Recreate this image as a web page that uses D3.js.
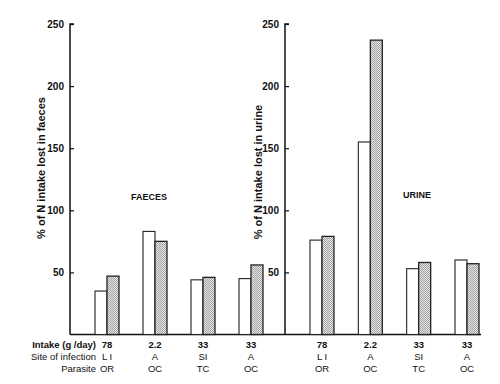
<!DOCTYPE html>
<html>
<head>
<meta charset="utf-8">
<script src="https://cdn.jsdelivr.net/npm/d3@7"></script>
<style>
	body { margin: 0; background: #fff; }
	text { font-family: "Liberation Sans", Arial, sans-serif; fill: #111; }
</style>
</head>
<body>
<svg width="500" height="384"></svg>
<script>
const intake = ['78', '2.2', '33', '33']
const site = ['L I', 'A', 'SI', 'A']
const parasite = ['OR', 'OC', 'TC', 'OC']
const faecesOpen = [35, 83, 44, 45]
const faecesHatched = [47, 75, 46, 56]
const urineOpen = [76, 155, 53, 60]
const urineHatched = [79, 237, 58, 57]
const yTicks = [50, 100, 150, 200, 250]

const svg = d3.select('svg')

let defs = svg.append('defs')
let pat = defs.append('pattern')
	.attr('id', 'hatch')
	.attr('width', 2).attr('height', 2)
	.attr('patternUnits', 'userSpaceOnUse')
pat.append('rect').attr('width', 2).attr('height', 2).attr('fill', '#e4e4e4')
pat.append('rect').attr('width', 1).attr('height', 1).attr('fill', '#a4a4a4')
pat.append('rect').attr('x', 1).attr('y', 1).attr('width', 1).attr('height', 1).attr('fill', '#a4a4a4')

const y = d3.scaleLinear().domain([0, 250]).range([334.5, 24])
const bw = 12
const rowY = [348, 360, 372]

function panel(opts) {
	const g = svg.append('g')
	// group centres
	const x = d3.scalePoint()
		.domain(d3.range(intake.length))
		.range([opts.c0, opts.c1])

	// axis
	const ax = g.append('g')
		.attr('transform', `translate(${opts.axisX},0)`)
		.call(d3.axisRight(y).tickValues(yTicks).tickSize(4).tickFormat(d3.format('d')))
	ax.select('.domain').attr('d', `M4,${y(250)}H0V${y(0)}`).attr('stroke', '#111').attr('stroke-width', 1.5)
	ax.selectAll('.tick line').attr('stroke', '#111').attr('stroke-width', 1.2)
	ax.selectAll('.tick text')
		.attr('x', -6).attr('text-anchor', 'end')
		.style('font-size', '10px').style('font-weight', 'bold')
		.style('font-family', '"Liberation Sans", Arial, sans-serif')

	// baseline
	g.append('line')
		.attr('x1', opts.axisX).attr('x2', opts.baseEnd)
		.attr('y1', y(0)).attr('y2', y(0))
		.attr('stroke', '#111').attr('stroke-width', 1.5)

	g.selectAll('.open').data(opts.open).enter().append('rect')
		.attr('x', (d, i) => x(i) - bw)
		.attr('y', d => y(d))
		.attr('width', bw)
		.attr('height', d => y(0) - y(d))
		.attr('fill', '#fff').attr('stroke', '#222').attr('stroke-width', 1.1)
	g.selectAll('.hat').data(opts.hatched).enter().append('rect')
		.attr('x', (d, i) => x(i))
		.attr('y', d => y(d))
		.attr('width', bw)
		.attr('height', d => y(0) - y(d))
		.attr('fill', 'url(#hatch)').attr('stroke', '#222').attr('stroke-width', 1.3)

	// category labels
	const rows = [intake, site, parasite]
	rows.forEach((r, k) => {
		g.selectAll('.lab' + k).data(r).enter().append('text')
			.attr('x', (d, i) => x(i))
			.attr('y', rowY[k])
			.attr('text-anchor', 'middle')
			.style('font-size', '9.5px')
			.style('font-weight', k == 0 ? 'bold' : 'normal')
			.text(d => d)
	})

	g.append('text')
		.attr('transform', `translate(${opts.labelX},${opts.labelY}) rotate(-90)`)
		.attr('text-anchor', 'middle')
		.style('font-size', '11px').style('font-weight', 'bold')
		.text(opts.ylabel)

	g.append('text')
		.attr('x', opts.tagX).attr('y', opts.tagY)
		.attr('text-anchor', 'middle')
		.style('font-size', '9px').style('font-weight', 'bold')
		.text(opts.tag)
}

panel({
	axisX: 70, c0: 107, c1: 251, baseEnd: 285,
	open: faecesOpen, hatched: faecesHatched,
	ylabel: '% of N intake lost in faeces', labelX: 45, labelY: 168,
	tag: 'FAECES', tagX: 149, tagY: 200
})
panel({
	axisX: 285, c0: 322, c1: 467, baseEnd: 481,
	open: urineOpen, hatched: urineHatched,
	ylabel: '% of N intake lost in urine', labelX: 262, labelY: 172,
	tag: 'URINE', tagX: 417, tagY: 198
})

// row headers
const heads = ['Intake (g /day)', 'Site of infection', 'Parasite']
svg.selectAll('.head').data(heads).enter().append('text')
	.attr('x', 96)
	.attr('y', (d, i) => rowY[i])
	.attr('text-anchor', 'end')
	.style('font-size', '9.5px')
	.style('font-weight', (d, i) => i == 0 ? 'bold' : 'normal')
	.text(d => d)
</script>
</body>
</html>
